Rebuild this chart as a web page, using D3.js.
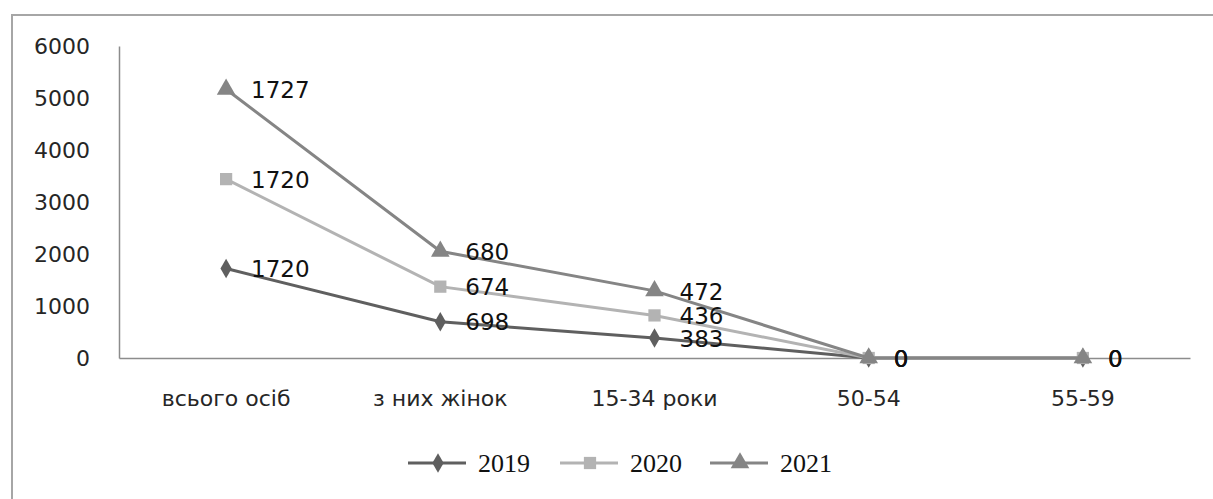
<!DOCTYPE html>
<html>
<head>
<meta charset="utf-8">
<script src="https://cdn.jsdelivr.net/npm/d3@7"></script>
<style>
  html, body { margin: 0; padding: 0; background: #fff; }
  svg { display: block; }
</style>
</head>
<body>
<svg id="chart" width="1213" height="499"></svg>
<script>
// Categories and per-year values (series are stacked on top of each other)
const categories = ["всього осіб", "з них жінок", "15-34 роки", "50-54", "55-59"];
const years = ["2019", "2020", "2021"];
const values2019 = [1720, 698, 383, 0, 0];
const values2020 = [1720, 674, 436, 0, 0];
const values2021 = [1727, 680, 472, 0, 0];
const yTicks = [0, 1000, 2000, 3000, 4000, 5000, 6000];

const seriesValues = [values2019, values2020, values2021];
const colors = ["#5f5f5f", "#b3b3b3", "#858585"];
const symbols = [d3.symbolDiamond, d3.symbolSquare, d3.symbolTriangle];

const svg = d3.select("#chart");
const plot = { left: 119, right: 1190, top: 46, bottom: 358 };

// Outer frame (top and left edges)
svg.append("path")
  .attr("d", `M12,499 L12,15 L1213,15`)
  .attr("fill", "none").attr("stroke", "#a6a6a6").attr("stroke-width", 2);

const x = d3.scaleBand().domain(categories).range([plot.left, plot.right]).padding(0);
const y = d3.scaleLinear().domain([0, 6000]).range([plot.bottom, plot.top]);

// Axes
const yAxis = d3.axisLeft(y).tickValues(yTicks).tickFormat(d3.format("d")).tickSize(0).tickPadding(29);
const gy = svg.append("g").attr("transform", `translate(${plot.left},0)`).call(yAxis);
gy.select(".domain").attr("stroke", "#8c8c8c").attr("stroke-width", 1.5);
gy.selectAll("text").attr("font-family", "DejaVu Sans").attr("font-size", 22).attr("fill", "#262626");

const xAxis = d3.axisBottom(x).tickSize(0).tickPadding(32);
const gx = svg.append("g").attr("transform", `translate(0,${plot.bottom})`).call(xAxis);
gx.select(".domain").attr("stroke", "#8c8c8c").attr("stroke-width", 1.5);
gx.selectAll("text").attr("font-family", "DejaVu Sans").attr("font-size", 22).attr("fill", "#262626");

// Stacked cumulative values
const stacked = [];
let running = categories.map(() => 0);
seriesValues.forEach(vals => {
  running = running.map((r, i) => r + vals[i]);
  stacked.push(running.slice());
});

const cx = c => x(c) + x.bandwidth() / 2;
const line = d3.line().x((d, i) => cx(categories[i])).y(d => y(d));

stacked.forEach((cum, s) => {
  const g = svg.append("g");
  g.append("path").datum(cum)
    .attr("d", line)
    .attr("fill", "none").attr("stroke", colors[s]).attr("stroke-width", 3);
  g.selectAll(".mk").data(cum).join("path")
    .attr("transform", (d, i) => `translate(${cx(categories[i])},${y(d)})`)
    .attr("d", d3.symbol().type(symbols[s]).size(s === 0 ? 110 : 150))
    .attr("fill", colors[s]);
});

// Value labels, drawn after all lines
stacked.forEach((cum, s) => {
  svg.append("g").selectAll("text").data(cum).join("text")
    .attr("x", (d, i) => cx(categories[i]) + 25)
    .attr("y", d => y(d))
    .attr("dy", "0.38em")
    .attr("font-family", "DejaVu Sans").attr("font-size", 23).attr("fill", "#111")
    .text((d, i) => seriesValues[s][i]);
});

// Legend
const legendX = [408, 560, 710];
const legendY = 463;
years.forEach((yr, s) => {
  const g = svg.append("g").attr("transform", `translate(${legendX[s]},${legendY})`);
  g.append("line").attr("x1", 0).attr("x2", 58).attr("y1", 0).attr("y2", 0)
    .attr("stroke", colors[s]).attr("stroke-width", 3);
  g.append("path").attr("transform", "translate(30,0)")
    .attr("d", d3.symbol().type(symbols[s]).size(s === 0 ? 110 : 150))
    .attr("fill", colors[s]);
  g.append("text").attr("x", 70).attr("y", 0).attr("dy", "0.35em")
    .attr("font-family", "Liberation Serif").attr("font-size", 26).attr("fill", "#111")
    .text(yr);
});
</script>
</body>
</html>
